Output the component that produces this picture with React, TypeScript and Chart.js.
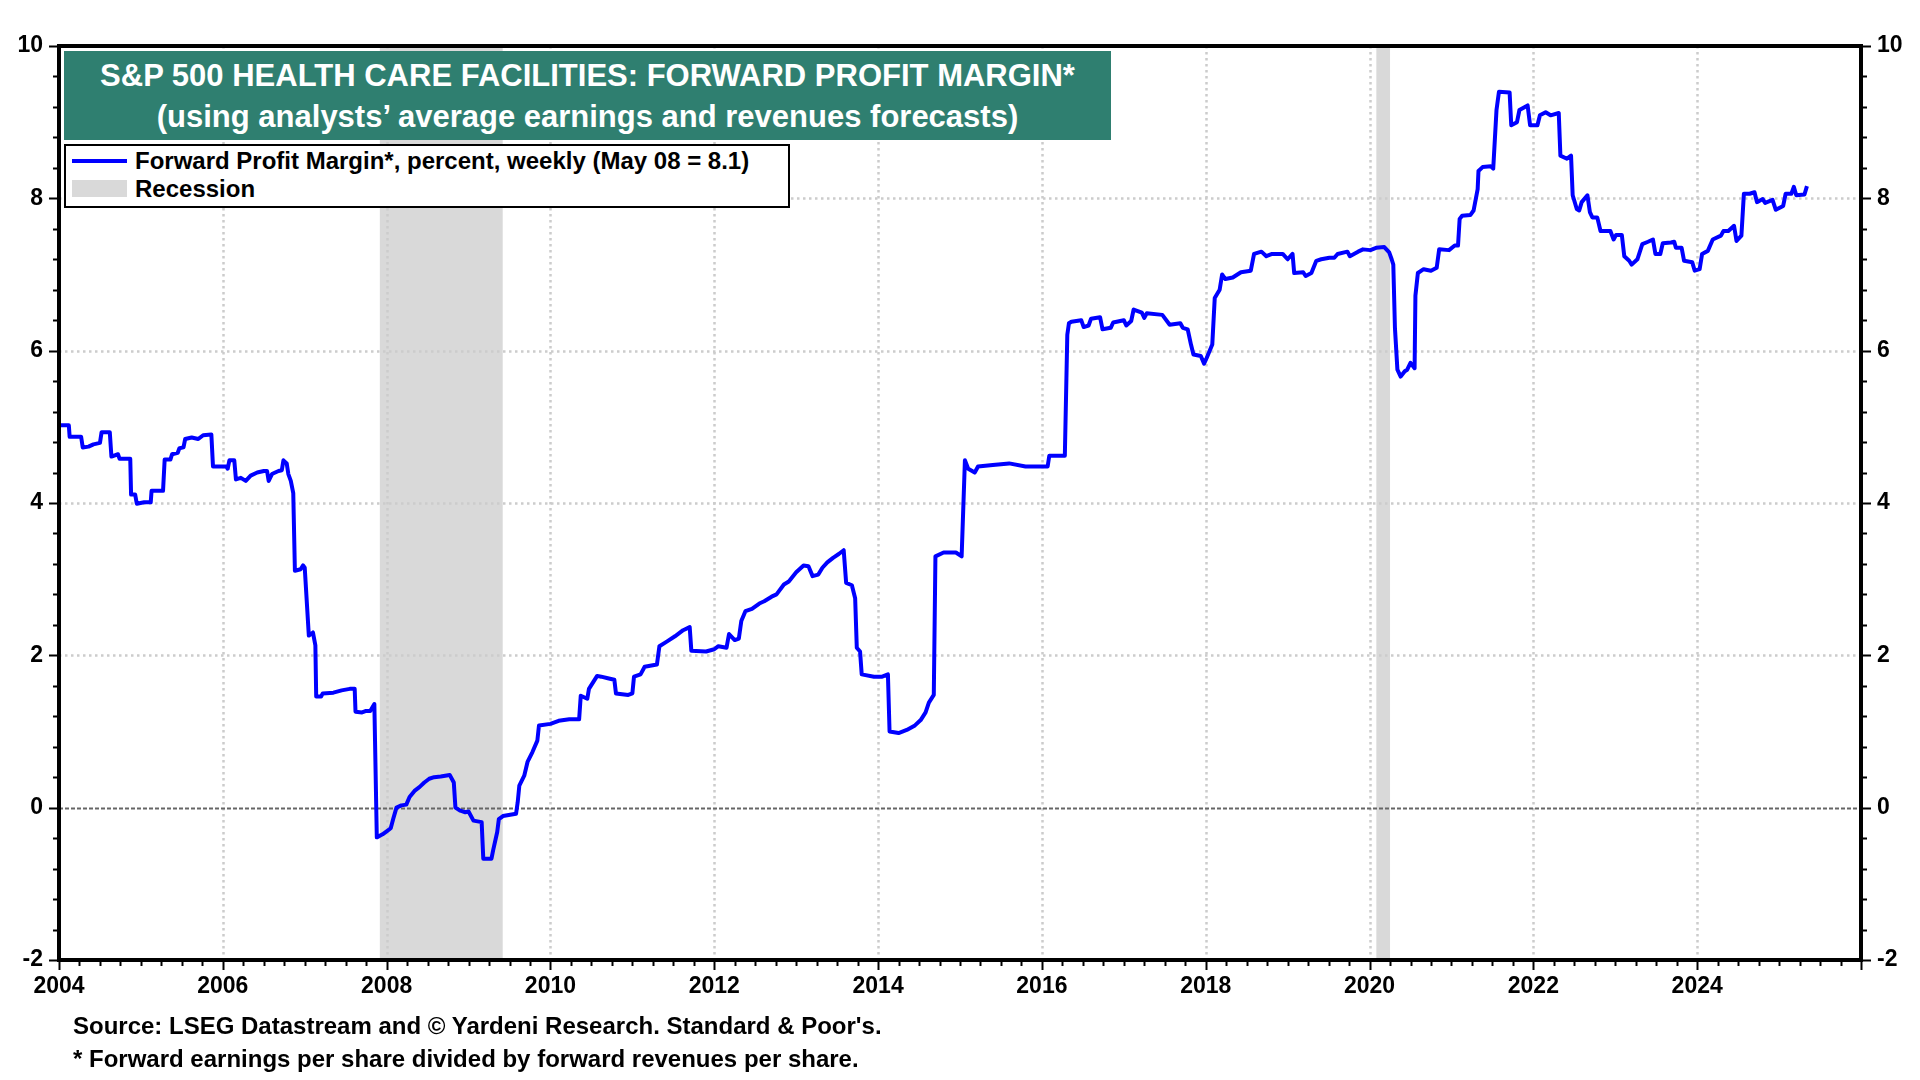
import React, { useEffect, useRef } from "react";
import { Chart, registerables } from "chart.js";

Chart.register(...registerables);

// ---- DATA (decimal year, forward profit margin %) ----
const dates: number[] = [
  2004.00, 2004.12, 2004.13, 2004.27, 2004.29, 2004.36, 2004.42, 2004.50, 2004.52, 2004.62,
  2004.64, 2004.72, 2004.74, 2004.87, 2004.88, 2004.93, 2004.95, 2005.04, 2005.12, 2005.13,
  2005.27, 2005.29, 2005.36, 2005.38, 2005.45, 2005.47, 2005.52, 2005.54, 2005.62, 2005.70,
  2005.76, 2005.86, 2005.88, 2006.04, 2006.06, 2006.08, 2006.14, 2006.16, 2006.22, 2006.28,
  2006.34, 2006.42, 2006.50, 2006.54, 2006.56, 2006.60, 2006.68, 2006.72, 2006.74, 2006.78,
  2006.80, 2006.83, 2006.86, 2006.88, 2006.95, 2006.98, 2007.00, 2007.05, 2007.10, 2007.13,
  2007.14, 2007.20, 2007.22, 2007.35, 2007.45, 2007.55, 2007.61, 2007.62, 2007.70, 2007.75,
  2007.80, 2007.85, 2007.88, 2007.95, 2008.00, 2008.05, 2008.08, 2008.12, 2008.18, 2008.24,
  2008.28, 2008.34, 2008.40, 2008.46, 2008.52, 2008.58, 2008.66, 2008.77, 2008.82, 2008.84,
  2008.90, 2008.96, 2009.00, 2009.06, 2009.16, 2009.18, 2009.28, 2009.30, 2009.35, 2009.37,
  2009.42, 2009.58, 2009.60, 2009.62, 2009.68, 2009.72, 2009.78, 2009.84, 2009.86, 2010.00,
  2010.10, 2010.23, 2010.35, 2010.37, 2010.45, 2010.47, 2010.57, 2010.62, 2010.70, 2010.78,
  2010.80, 2010.95, 2011.00, 2011.02, 2011.10, 2011.15, 2011.30, 2011.33, 2011.42, 2011.52,
  2011.62, 2011.70, 2011.72, 2011.90, 2012.00, 2012.05, 2012.15, 2012.18, 2012.25, 2012.30,
  2012.33, 2012.38, 2012.46, 2012.55, 2012.61, 2012.70, 2012.76, 2012.85, 2012.91, 2013.00,
  2013.09, 2013.15, 2013.20, 2013.27, 2013.32, 2013.38, 2013.45, 2013.52, 2013.58, 2013.61,
  2013.68, 2013.72, 2013.74, 2013.78, 2013.80, 2013.95, 2014.05, 2014.12, 2014.14, 2014.25,
  2014.35, 2014.45, 2014.52, 2014.58, 2014.62, 2014.68, 2014.70, 2014.80, 2014.95, 2015.02,
  2015.06, 2015.10, 2015.18, 2015.22, 2015.40, 2015.60, 2015.80, 2016.07, 2016.09, 2016.28,
  2016.31, 2016.33, 2016.36, 2016.48, 2016.51, 2016.57, 2016.60, 2016.71, 2016.74, 2016.84,
  2016.87, 2017.00, 2017.03, 2017.09, 2017.12, 2017.22, 2017.25, 2017.28, 2017.47, 2017.56,
  2017.69, 2017.72, 2017.78, 2017.82, 2017.85, 2017.94, 2017.98, 2018.01, 2018.08, 2018.11,
  2018.17, 2018.20, 2018.24, 2018.33, 2018.43, 2018.55, 2018.59, 2018.68, 2018.74, 2018.81,
  2018.94, 2019.00, 2019.06, 2019.08, 2019.19, 2019.22, 2019.29, 2019.35, 2019.41, 2019.51,
  2019.57, 2019.61, 2019.73, 2019.76, 2019.86, 2019.92, 2020.01, 2020.08, 2020.18, 2020.24,
  2020.27, 2020.29, 2020.31, 2020.34, 2020.38, 2020.43, 2020.46, 2020.50, 2020.55, 2020.56,
  2020.59, 2020.66, 2020.75, 2020.82, 2020.85, 2020.97, 2021.04, 2021.08, 2021.10, 2021.13,
  2021.23, 2021.27, 2021.32, 2021.33, 2021.38, 2021.48, 2021.51, 2021.55, 2021.58, 2021.71,
  2021.73, 2021.80, 2021.83, 2021.93, 2021.96, 2022.05, 2022.08, 2022.15, 2022.21, 2022.31,
  2022.33, 2022.41, 2022.46, 2022.48, 2022.53, 2022.56, 2022.59, 2022.66, 2022.69, 2022.72,
  2022.78, 2022.82, 2022.94, 2022.98, 2023.01, 2023.08, 2023.11, 2023.17, 2023.20, 2023.27,
  2023.33, 2023.40, 2023.46, 2023.49, 2023.55, 2023.58, 2023.68, 2023.72, 2023.74, 2023.81,
  2023.84, 2023.94, 2023.97, 2024.03, 2024.06, 2024.13, 2024.19, 2024.29, 2024.32, 2024.38,
  2024.45, 2024.48, 2024.54, 2024.57, 2024.64, 2024.70, 2024.73, 2024.80, 2024.83, 2024.92,
  2024.96, 2025.05, 2025.08, 2025.15, 2025.18, 2025.21, 2025.31, 2025.34,
];

const margin: number[] = [
  5.02, 5.02, 4.87, 4.87, 4.73, 4.74, 4.77, 4.79, 4.93, 4.93,
  4.61, 4.64, 4.58, 4.58, 4.11, 4.11, 3.99, 4.01, 4.01, 4.16,
  4.16, 4.57, 4.57, 4.64, 4.66, 4.72, 4.73, 4.84, 4.86, 4.84,
  4.89, 4.90, 4.48, 4.48, 4.45, 4.56, 4.56, 4.31, 4.33, 4.29,
  4.36, 4.40, 4.42, 4.42, 4.29, 4.38, 4.42, 4.43, 4.56, 4.52,
  4.38, 4.29, 4.13, 3.11, 3.13, 3.18, 3.15, 2.26, 2.30, 2.13,
  1.46, 1.46, 1.50, 1.51, 1.54, 1.56, 1.56, 1.26, 1.25, 1.27,
  1.27, 1.36, -0.39, -0.35, -0.31, -0.27, -0.15, 0.00, 0.03, 0.04,
  0.14, 0.22, 0.27, 0.33, 0.38, 0.40, 0.41, 0.43, 0.33, 0.00,
  -0.04, -0.06, -0.05, -0.17, -0.19, -0.67, -0.67, -0.56, -0.32, -0.15,
  -0.11, -0.08, 0.07, 0.29, 0.42, 0.60, 0.73, 0.88, 1.08, 1.10,
  1.14, 1.16, 1.16, 1.47, 1.43, 1.56, 1.73, 1.72, 1.70, 1.68,
  1.50, 1.48, 1.50, 1.72, 1.75, 1.85, 1.88, 2.12, 2.18, 2.25,
  2.33, 2.37, 2.06, 2.05, 2.08, 2.12, 2.10, 2.28, 2.20, 2.22,
  2.45, 2.58, 2.61, 2.68, 2.71, 2.77, 2.80, 2.93, 2.97, 3.09,
  3.18, 3.17, 3.04, 3.06, 3.15, 3.22, 3.28, 3.33, 3.38, 2.95,
  2.92, 2.75, 2.10, 2.05, 1.75, 1.72, 1.72, 1.75, 1.00, 0.98,
  1.02, 1.08, 1.15, 1.25, 1.38, 1.48, 3.30, 3.35, 3.35, 3.30,
  4.56, 4.45, 4.40, 4.48, 4.50, 4.52, 4.48, 4.48, 4.62, 4.62,
  6.21, 6.36, 6.38, 6.40, 6.31, 6.33, 6.42, 6.44, 6.28, 6.30,
  6.37, 6.40, 6.33, 6.39, 6.54, 6.50, 6.43, 6.49, 6.47, 6.34,
  6.36, 6.30, 6.28, 6.08, 5.95, 5.93, 5.83, 5.90, 6.08, 6.69,
  6.80, 7.00, 6.94, 6.96, 7.03, 7.05, 7.27, 7.30, 7.24, 7.27,
  7.27, 7.20, 7.27, 7.02, 7.03, 6.98, 7.02, 7.18, 7.20, 7.22,
  7.22, 7.27, 7.30, 7.24, 7.30, 7.33, 7.32, 7.35, 7.36, 7.29,
  7.20, 7.13, 6.30, 5.75, 5.66, 5.73, 5.75, 5.84, 5.77, 6.72,
  7.02, 7.07, 7.05, 7.09, 7.33, 7.32, 7.38, 7.38, 7.73, 7.77,
  7.78, 7.84, 8.12, 8.36, 8.41, 8.42, 8.39, 9.16, 9.40, 9.39,
  8.96, 9.00, 9.16, 9.22, 8.96, 8.96, 9.09, 9.13, 9.09, 9.12,
  8.56, 8.52, 8.56, 8.04, 7.86, 7.84, 7.95, 8.04, 7.82, 7.75,
  7.75, 7.57, 7.57, 7.46, 7.52, 7.52, 7.24, 7.18, 7.13, 7.20,
  7.40, 7.43, 7.46, 7.27, 7.27, 7.41, 7.42, 7.43, 7.35, 7.35,
  7.18, 7.16, 7.05, 7.07, 7.27, 7.31, 7.46, 7.51, 7.57, 7.57,
  7.64, 7.44, 7.51, 8.06, 8.06, 8.08, 7.95, 7.99, 7.94, 7.98,
  7.85, 7.90, 8.06, 8.06, 8.15, 8.04, 8.05, 8.16,
];

const recessionStarts: number[] = [2007.917, 2020.083];
const recessionEnds: number[] = [2009.417, 2020.25];
const xLabelYears: number[] = [2004, 2006, 2008, 2010, 2012, 2014, 2016, 2018, 2020, 2022, 2024];
const yTickValues: number[] = [-2, 0, 2, 4, 6, 8, 10];

const FONT = "'Liberation Sans', Arial, Helvetica, sans-serif";

const decorPlugin = {
  id: "decor",
  beforeDatasetsDraw(chart: any) {
    const { ctx, chartArea } = chart;
    const { left, right, top, bottom } = chartArea;
    const x = chart.scales.x;
    const y = chart.scales.y;
    ctx.save();
    // recessions
    ctx.fillStyle = "#d9d9d9";
    recessionStarts.forEach((s, i) => {
      const a = x.getPixelForValue(s);
      const b = x.getPixelForValue(recessionEnds[i]);
      ctx.fillRect(a, top, b - a, bottom - top);
    });
    // grid
    ctx.strokeStyle = "#cccccc";
    ctx.lineWidth = 2.5;
    ctx.setLineDash([2.5, 3.5]);
    xLabelYears.forEach((yr) => {
      if (yr <= 2004) return;
      const px = Math.round(x.getPixelForValue(yr)) + 0.5;
      ctx.beginPath();
      ctx.moveTo(px, top);
      ctx.lineTo(px, bottom);
      ctx.stroke();
    });
    yTickValues.forEach((v) => {
      if (v === -2 || v === 10 || v === 0) return;
      const py = Math.round(y.getPixelForValue(v)) + 0.5;
      ctx.beginPath();
      ctx.moveTo(left, py);
      ctx.lineTo(right, py);
      ctx.stroke();
    });
    // zero line
    ctx.strokeStyle = "#666666";
    ctx.lineWidth = 2;
    ctx.setLineDash([4, 2]);
    const pz = Math.round(y.getPixelForValue(0)) + 0.5;
    ctx.beginPath();
    ctx.moveTo(left, pz);
    ctx.lineTo(right, pz);
    ctx.stroke();
    ctx.restore();
  },
  afterDraw(chart: any) {
    const { ctx, chartArea } = chart;
    const { left, right, top, bottom } = chartArea;
    const x = chart.scales.x;
    const y = chart.scales.y;
    ctx.save();
    ctx.setLineDash([]);
    ctx.strokeStyle = "#000";
    // y ticks both sides
    ctx.lineWidth = 2;
    for (let i = 0; i <= 30; i++) {
      const v = -2 + i * 0.4;
      const py = Math.round(y.getPixelForValue(v)) + 0.5;
      const len = i % 5 === 0 ? 10 : 6;
      ctx.beginPath();
      ctx.moveTo(left, py);
      ctx.lineTo(left - len, py);
      ctx.moveTo(right, py);
      ctx.lineTo(right + len, py);
      ctx.stroke();
    }
    // x ticks
    for (let i = 0; i <= 22 * 4; i++) {
      const v = 2004 + i / 4;
      const px = Math.round(x.getPixelForValue(v)) + 0.5;
      const len = i % 8 === 0 ? 10 : 6;
      ctx.beginPath();
      ctx.moveTo(px, bottom);
      ctx.lineTo(px, bottom + len);
      ctx.stroke();
    }
    // frame
    ctx.lineWidth = 4;
    ctx.strokeRect(left, top, right - left, bottom - top);
    ctx.restore();
  },
};

export default function App() {
  const ref = useRef<HTMLCanvasElement>(null);

  useEffect(() => {
    document.body.style.margin = "0";
    const canvas = ref.current;
    if (!canvas) return;
    const tickFont = { family: FONT, size: 23, weight: "bold" as const };
    const chart = new Chart(canvas, {
      type: "line",
      data: {
        datasets: [
          {
            label: "Forward Profit Margin*, percent, weekly (May 08 = 8.1)",
            data: dates.map((d, i) => ({ x: d, y: margin[i] })),
            borderColor: "#0000ff",
            borderWidth: 4,
            pointRadius: 0,
            tension: 0,
            fill: false,
            yAxisID: "y",
            borderJoinStyle: "round",
          },
        ],
      },
      options: {
        responsive: false,
        animation: false,
        devicePixelRatio: 1,
        layout: { padding: { top: 46, left: 0, right: 0, bottom: 0 } },
        plugins: { legend: { display: false }, tooltip: { enabled: false }, title: { display: false } },
        scales: {
          x: {
            type: "linear",
            min: 2004,
            max: 2026,
            grid: { display: false, drawTicks: false },
            border: { display: false },
            afterBuildTicks: (s: any) => {
              s.ticks = xLabelYears.map((v) => ({ value: v }));
            },
            afterFit: (s: any) => {
              s.height = 120;
            },
            ticks: {
              autoSkip: false,
              maxRotation: 0,
              padding: 13,
              color: "#000",
              font: tickFont,
              callback: (v: any) => String(v),
            },
          },
          y: {
            position: "left",
            min: -2,
            max: 10,
            grid: { display: false, drawTicks: false },
            border: { display: false },
            afterBuildTicks: (s: any) => {
              s.ticks = yTickValues.map((v) => ({ value: v }));
            },
            afterFit: (s: any) => {
              s.width = 59;
            },
            ticks: { padding: 16, color: "#000", font: tickFont, callback: (v: any) => String(v) },
          },
          y2: {
            position: "right",
            min: -2,
            max: 10,
            grid: { display: false, drawTicks: false },
            border: { display: false },
            afterBuildTicks: (s: any) => {
              s.ticks = yTickValues.map((v) => ({ value: v }));
            },
            afterFit: (s: any) => {
              s.width = 59;
            },
            ticks: { padding: 16, color: "#000", font: tickFont, callback: (v: any) => String(v) },
          },
        },
      },
      plugins: [decorPlugin],
    });
    return () => chart.destroy();
  }, []);

  const bold: React.CSSProperties = { fontFamily: FONT, fontWeight: "bold" };

  return (
    <div style={{ position: "relative", width: 1920, height: 1080, background: "#fff", overflow: "hidden" }}>
      <canvas ref={ref} width={1920} height={1080} style={{ position: "absolute", left: 0, top: 0 }} />
      <div
        style={{
          ...bold,
          position: "absolute",
          left: 64,
          top: 51,
          width: 1047,
          height: 89,
          background: "#2f7f70",
          color: "#fff",
          fontSize: 31,
          lineHeight: "41px",
          textAlign: "center",
          paddingTop: 4,
          boxSizing: "border-box",
          whiteSpace: "nowrap",
        }}
      >
        <div>S&amp;P 500 HEALTH CARE FACILITIES: FORWARD PROFIT MARGIN*</div>
        <div>(using analysts’ average earnings and revenues forecasts)</div>
      </div>
      <div
        style={{
          ...bold,
          position: "absolute",
          left: 64,
          top: 144,
          width: 726,
          height: 64,
          background: "#fff",
          border: "2.5px solid #000",
          boxSizing: "border-box",
          fontSize: 24,
          color: "#000",
          whiteSpace: "nowrap",
        }}
      >
        <div style={{ position: "absolute", left: 6, top: 13, width: 55, height: 4, background: "#0000ff" }} />
        <div style={{ position: "absolute", left: 69, top: 1, lineHeight: "28px" }}>
          Forward Profit Margin*, percent, weekly (May 08 = 8.1)
        </div>
        <div style={{ position: "absolute", left: 6, top: 34, width: 55, height: 17, background: "#d9d9d9" }} />
        <div style={{ position: "absolute", left: 69, top: 29, lineHeight: "28px" }}>Recession</div>
      </div>
      <div style={{ ...bold, position: "absolute", left: 73, top: 1012, fontSize: 24, lineHeight: "28px", color: "#000", whiteSpace: "nowrap" }}>
        Source: LSEG Datastream and © Yardeni Research. Standard &amp; Poor's.
      </div>
      <div style={{ ...bold, position: "absolute", left: 73, top: 1045, fontSize: 24, lineHeight: "28px", color: "#000", whiteSpace: "nowrap" }}>
        * Forward earnings per share divided by forward revenues per share.
      </div>
    </div>
  );
}
